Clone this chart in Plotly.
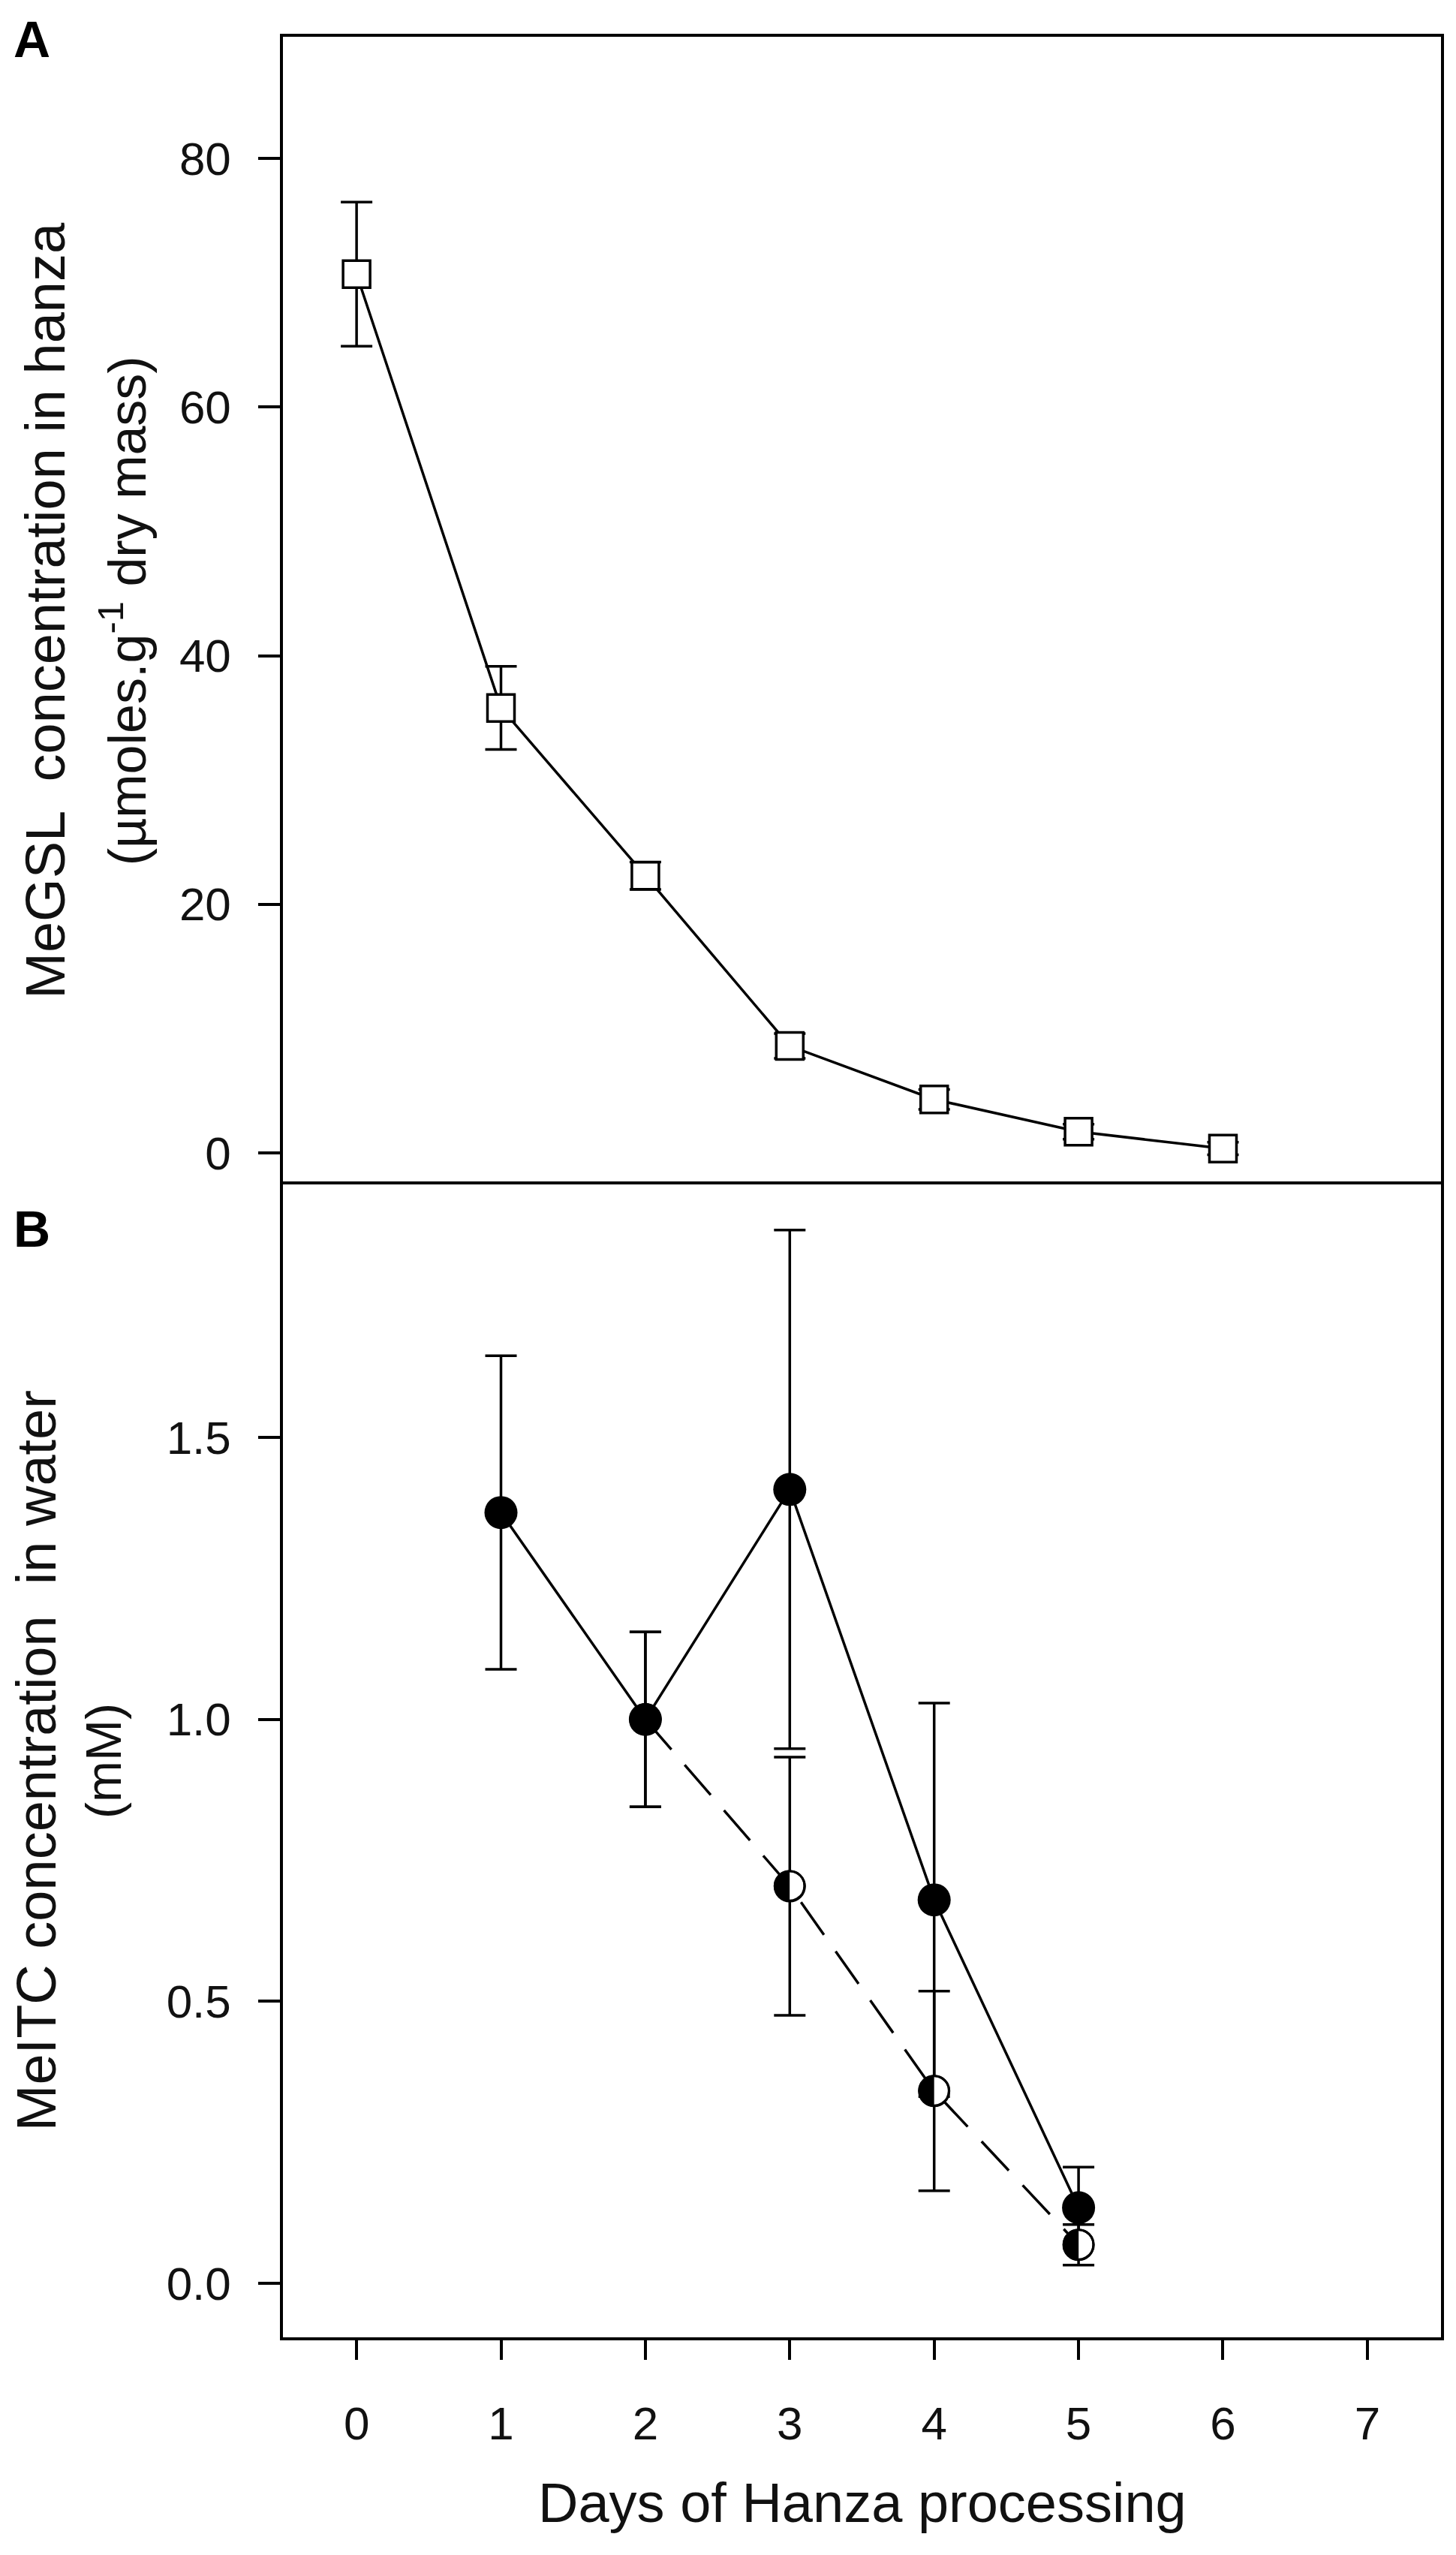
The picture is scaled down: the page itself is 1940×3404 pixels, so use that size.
import plotly.graph_objects as go

# ---------------- data ----------------
days_a = [0, 1, 2, 3, 4, 5, 6]
megsl = [70.7, 35.8, 22.3, 8.6, 4.3, 1.7, 0.35]
megsl_err = [5.8, 3.35, 1.1, 1.0, 0.8, 0.6, 0.5]

days_solid = [1, 2, 3, 4, 5]
meitc_solid = [1.367, 1.0, 1.408, 0.680, 0.134]
meitc_solid_err = [0.278, 0.155, 0.460, 0.349, 0.072]

days_dash = [2, 3, 4, 5]
meitc_dash = [1.0, 0.704, 0.341, 0.068]
meitc_dash_err = [0.155, 0.229, 0.177, 0.036]

x_ticks = [0, 1, 2, 3, 4, 5, 6, 7]
ya_ticks = [0, 20, 40, 60, 80]
yb_ticks = [0.0, 0.5, 1.0, 1.5]
yb_ticktext = ["0.0", "0.5", "1.0", "1.5"]

# ---------------- layout constants (pixels) ----------------
W, H = 1940, 3404
L, R, T, B = 369, 28, 41, 298
PW = W - L - R
PH = H - T - B
SPLIT_PX = 1570
split = (H - B - SPLIT_PX) / PH


def px_x(px):
    return (px - L) / PW


def px_y(py):
    return (H - B - py) / PH


FONT = "Liberation Sans, Arial, Helvetica, sans-serif"
LW = 3.5
BLACK = "#000000"
TXT = "#111111"

fig = go.Figure()

# Panel A
fig.add_trace(go.Scatter(
    x=days_a, y=megsl, xaxis="x2", yaxis="y2", mode="lines+markers",
    line=dict(color=BLACK, width=LW),
    marker=dict(symbol="square", size=36, color="white",
                line=dict(color=BLACK, width=LW)),
    error_y=dict(type="data", array=megsl_err, visible=True,
                 color=BLACK, thickness=LW, width=21),
    hoverinfo="skip"))

# Panel B: solid series line + error bars
fig.add_trace(go.Scatter(
    x=days_solid, y=meitc_solid, xaxis="x", yaxis="y", mode="lines",
    line=dict(color=BLACK, width=LW),
    error_y=dict(type="data", array=meitc_solid_err, visible=True,
                 color=BLACK, thickness=LW, width=21),
    hoverinfo="skip"))

# Panel B: dashed series line + error bars
fig.add_trace(go.Scatter(
    x=days_dash, y=meitc_dash, xaxis="x", yaxis="y", mode="lines",
    line=dict(color=BLACK, width=LW, dash="53px,27px"),
    error_y=dict(type="data", array=meitc_dash_err, visible=True,
                 color=BLACK, thickness=LW, width=21),
    hoverinfo="skip"))

# Panel B: dashed series half-filled markers
fig.add_trace(go.Scatter(
    x=days_dash, y=meitc_dash, xaxis="x", yaxis="y", mode="markers",
    marker=dict(symbol="circle", size=40, color="white",
                line=dict(color=BLACK, width=3)),
    hoverinfo="skip"))
fig.add_trace(go.Scatter(
    x=days_dash, y=meitc_dash, xaxis="x", yaxis="y", mode="text",
    text=["◐" for _ in days_dash], textposition="middle center",
    textfont=dict(family="DejaVu Sans", size=56, color=BLACK),
    hoverinfo="skip"))

# Panel B: solid series filled markers
fig.add_trace(go.Scatter(
    x=days_solid, y=meitc_solid, xaxis="x", yaxis="y", mode="markers",
    marker=dict(symbol="circle", size=44, color=BLACK,
                line=dict(color=BLACK, width=0)),
    hoverinfo="skip"))

axis_common = dict(showline=True, linecolor=BLACK, linewidth=LW,
                   showgrid=False, zeroline=False,
                   tickfont=dict(family=FONT, size=62, color=TXT))

fig.update_layout(
    width=W, height=H,
    margin=dict(l=L, r=R, t=T, b=B, pad=0),
    paper_bgcolor="white", plot_bgcolor="white",
    showlegend=False,
    font=dict(family=FONT, color=TXT),
    xaxis=dict(domain=[0, 1], anchor="y", range=[-0.51, 7.51], mirror=True,
               tickmode="array", tickvals=x_ticks,
               ticks="outside", ticklen=26, tickwidth=LW, tickcolor=BLACK,
               ticklabelstandoff=32, **axis_common),
    yaxis=dict(domain=[0, split], anchor="x", range=[-0.096, 1.949], mirror=True,
               tickmode="array", tickvals=yb_ticks, ticktext=yb_ticktext,
               ticks="outside", ticklen=29, tickwidth=LW, tickcolor=BLACK,
               ticklabelstandoff=24, **axis_common),
    xaxis2=dict(domain=[0, 1], anchor="y2", range=[-0.51, 7.51], side="top",
                mirror=False, ticks="", showticklabels=False, matches="x",
                **axis_common),
    yaxis2=dict(domain=[split, 1], anchor="x2", range=[-2.54, 89.8], mirror=True,
                tickmode="array", tickvals=ya_ticks,
                ticks="outside", ticklen=29, tickwidth=LW, tickcolor=BLACK,
                ticklabelstandoff=24, **axis_common),
)

ann = []
yA = px_y((T + SPLIT_PX) / 2)
yB = px_y((SPLIT_PX + H - B) / 2)
ann.append(dict(text="MeGSL  concentration in hanza", x=px_x(80 + 0.212 * 74),
                y=yA, xref="paper", yref="paper", xanchor="right", yanchor="middle",
                textangle=-90, showarrow=False,
                font=dict(family=FONT, size=74, color=TXT)))
ann.append(dict(text="(µmoles.g<sup>-1</sup> dry mass)", x=px_x(188 + 0.212 * 70),
                y=yA, xref="paper", yref="paper", xanchor="right", yanchor="middle",
                textangle=-90, showarrow=False,
                font=dict(family=FONT, size=70, color=TXT)))
ann.append(dict(text="MeITC concentration  in water", x=px_x(68 + 0.212 * 74),
                y=yB, xref="paper", yref="paper", xanchor="right", yanchor="middle",
                textangle=-90, showarrow=False,
                font=dict(family=FONT, size=74, color=TXT)))
ann.append(dict(text="(mM)", x=px_x(155 + 0.212 * 66),
                y=yB, xref="paper", yref="paper", xanchor="right", yanchor="middle",
                textangle=-90, showarrow=False,
                font=dict(family=FONT, size=66, color=TXT)))
ann.append(dict(text="Days of Hanza processing", x=0.5, y=px_y(3327),
                xref="paper", yref="paper", xanchor="center", yanchor="middle",
                showarrow=False, font=dict(family=FONT, size=74, color=TXT)))
ann.append(dict(text="<b>A</b>", x=px_x(8), y=px_y(4), xref="paper", yref="paper",
                xanchor="left", yanchor="top", showarrow=False,
                font=dict(family=FONT, size=68, color=BLACK)))
ann.append(dict(text="<b>B</b>", x=px_x(8), y=px_y(1629), xref="paper", yref="paper",
                xanchor="left", yanchor="middle", showarrow=False,
                font=dict(family=FONT, size=68, color=BLACK)))
fig.update_layout(annotations=ann)

fig.write_html("out.html")
